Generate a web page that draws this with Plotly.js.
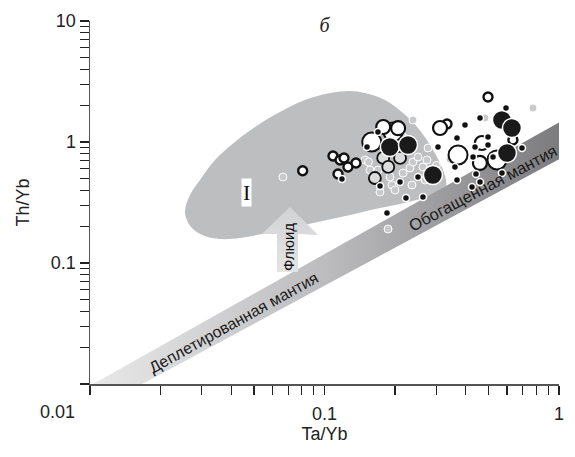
<!DOCTYPE html>
<html>
<head>
<meta charset="utf-8">
<script src="https://cdn.plot.ly/plotly-3.0.1.min.js"></script>
<style>html,body{margin:0;padding:0;background:#fff;}#chart{width:575px;height:457px;}</style>
</head>
<body>
<div id="chart"></div>
<script>
// ---- Data (Ta/Yb vs Th/Yb) ----
const bigBlackX = [0.190, 0.227, 0.290, 0.571, 0.630, 0.600];
const bigBlackY = [0.909, 0.945, 0.534, 1.520, 1.305, 0.811];

const bigWhiteX = [0.196, 0.159, 0.371, 0.544];
const bigWhiteY = [1.210, 1.000, 0.781, 0.710];

const midWhiteX = [0.469, 0.178, 0.460, 0.311, 0.206];
const midWhiteY = [0.981, 1.330, 0.671, 1.305, 1.300];

const midGrayX = [0.178, 0.210, 0.187, 0.164];
const midGrayY = [0.738, 0.738, 0.622, 0.504];

const ringX = [0.0807, 0.1087, 0.1165, 0.1211, 0.1259, 0.1362, 0.1142, 0.498, 0.333, 0.636];
const ringY = [0.579, 0.766, 0.710, 0.738, 0.622, 0.671, 0.544, 2.354, 1.408, 1.039];

const smallBlackX = [0.1187, 0.1690, 0.1518, 0.1725, 0.2099, 0.2226, 0.2630, 0.2504, 0.1847, 0.3673,
                     0.3973, 0.4604, 0.5943, 0.4384, 0.4980, 0.4980, 0.5232, 0.4299, 0.6952, 0.5713,
                     0.4426, 0.4604, 0.3600, 0.3673, 0.4256, 0.3048];
const smallBlackY = [0.4945, 1.2097, 0.909, 0.433, 0.467, 0.3445, 0.3511, 0.5136, 0.2589, 1.079,
                     1.382, 1.579, 1.910, 0.909, 1.100, 0.9445, 0.7516, 0.7516, 0.892, 0.5544,
                     0.5439, 0.467, 0.6215, 0.4853, 0.4248, 0.909];

const grayX = [0.0665, 0.1866, 0.2384, 0.7747, 0.4835, 0.1563, 0.1690, 0.1903, 0.1940, 0.2162,
               0.2315, 0.2384, 0.2504, 0.2630, 0.2735, 0.2763, 0.1998, 0.1725, 0.2360, 0.2684,
               0.1488, 0.2162, 0.343, 0.300, 0.154];
const grayY = [0.5136, 0.191, 1.520, 1.910, 1.579, 0.5868, 0.5868, 0.5136, 0.4413, 0.5544,
               0.6098, 0.6835, 0.7516, 0.6215, 0.7098, 0.892, 0.4012, 0.3862, 0.4413, 0.4853,
               0.7098, 1.100, 0.720, 0.640, 0.684];

// ---- Fields (region outlines, data units) ----
const fieldX = [0.02542,0.0267,0.02945,0.03411,0.04152,0.05205,0.06459,0.08256,0.1056,0.1285,0.1488,0.1811,0.2162,0.2504,0.2818,0.3108,0.3297,0.3265,0.2960,0.2553,0.2099,0.1725,0.1285,0.0938,0.0713,0.0541,0.0436,0.0358,0.0309,0.0272,0.02542];
const fieldY = [0.2589,0.3648,0.4853,0.7098,1.0,1.382,1.770,2.224,2.541,2.640,2.541,2.224,1.737,1.305,0.9445,0.6707,0.4853,0.4012,0.3578,0.3380,0.3074,0.2847,0.2492,0.2182,0.1947,0.1737,0.1609,0.1579,0.1671,0.1947,0.2589];

const mantleX = [0.0103, 1.0, 1.0, 0.0167, 0.0103];
const mantleY = [0.010, 1.45, 0.72, 0.010, 0.010];

const arrowX = [0.0713, 0.0938, 0.0771, 0.0771, 0.0627, 0.0627, 0.0541, 0.0713];
const arrowY = [0.2903, 0.1703, 0.1737, 0.0843, 0.0843, 0.1737, 0.1737, 0.2903];

const xTickVals = [0.01,0.02,0.03,0.04,0.05,0.06,0.07,0.08,0.09,0.1,0.2,0.3,0.4,0.5,0.6,0.7,0.8,0.9,1];
const xTickText = ['','','','','','','','','','0.1','','','','','','','','','1'];
const yTickVals = [0.01,0.02,0.03,0.04,0.05,0.06,0.07,0.08,0.09,0.1,0.2,0.3,0.4,0.5,0.6,0.7,0.8,0.9,1,2,3,4,5,6,7,8,9,10];
const yTickText = ['','','','','','','','','','0.1','','','','','','','','','1','','','','','','','','','10'];

const L = Math.log10;
const F = 'Liberation Sans, Arial, sans-serif';
const XDEC = 234.5, YDEC = 121; // px per decade of the frame

// tick marks as unclipped line markers just outside the axes (backup for the axis ticks)
const xTickMarkY = xTickVals.map(() => 0.01 * Math.pow(10, -4.5 / YDEC));
const yTickMarkX = yTickVals.map(() => 0.01 * Math.pow(10, -4.5 / XDEC));

const traces = [
  {x: fieldX, y: fieldY, mode: 'lines', fill: 'toself', fillcolor: '#bdbec0',
   line: {color: '#bdbec0', width: 0, shape: 'spline', smoothing: 1}, hoverinfo: 'skip'},
  {x: mantleX, y: mantleY, mode: 'lines', fill: 'toself',
   fillgradient: {type: 'horizontal', colorscale: [[0, '#e8e8e9'], [0.5, '#bcbcbe'], [1, '#7c7c7e']]},
   line: {width: 0, color: 'rgba(0,0,0,0)'}, hoverinfo: 'skip'},
  {x: arrowX, y: arrowY, mode: 'lines', fill: 'toself',
   fillgradient: {type: 'vertical', colorscale: [[0, '#e4e4e5'], [1, '#d2d3d5']]},
   line: {width: 0, color: 'rgba(0,0,0,0)'}, hoverinfo: 'skip'},
  {x: grayX, y: grayY, mode: 'markers',
   marker: {size: 8, color: '#c9cacc', line: {color: '#ffffff', width: 1}}},
  {x: ringX, y: ringY, mode: 'markers',
   marker: {size: 9, color: '#ffffff', line: {color: '#111111', width: 2.4}}},
  {x: midGrayX, y: midGrayY, mode: 'markers',
   marker: {size: 12, color: '#dcdcdd', line: {color: '#111111', width: 1.8}}},
  {x: bigWhiteX, y: bigWhiteY, mode: 'markers',
   marker: {size: 19, color: '#ffffff', line: {color: '#111111', width: 2}}},
  {x: midWhiteX, y: midWhiteY, mode: 'markers',
   marker: {size: 14, color: '#ffffff', line: {color: '#111111', width: 2.2}}},
  {x: bigBlackX, y: bigBlackY, mode: 'markers',
   marker: {size: 19, color: '#1a1a1a', line: {color: '#ffffff', width: 1.5}}},
  {x: smallBlackX, y: smallBlackY, mode: 'markers',
   marker: {size: 7, color: '#111111', line: {color: '#ffffff', width: 1.5}}},
  {x: xTickVals, y: xTickMarkY, mode: 'markers', cliponaxis: false, hoverinfo: 'skip',
   marker: {symbol: 'line-ns', size: 9, color: '#222222', line: {color: '#222222', width: 1.2}}},
  {x: yTickMarkX, y: yTickVals, mode: 'markers', cliponaxis: false, hoverinfo: 'skip',
   marker: {symbol: 'line-ew', size: 9, color: '#222222', line: {color: '#222222', width: 1.2}}}
];

const axisCommon = {
  type: 'log', showgrid: false, zeroline: false,
  showline: true, linecolor: '#555555', linewidth: 1.5,
  ticks: 'outside', ticklen: 9, tickcolor: '#222222', tickwidth: 1.2,
  tickmode: 'array',
  tickfont: {family: F, size: 18, color: '#222'}
};

const layout = {
  width: 575, height: 457,
  margin: {l: 90, r: 16, t: 21, b: 73},
  paper_bgcolor: '#ffffff', plot_bgcolor: '#ffffff',
  showlegend: false,
  font: {family: F, size: 18, color: '#222222'},
  title: {text: '<i>б</i>', font: {family: 'Liberation Serif, serif', size: 20, color: '#222'},
          x: 0.5, xref: 'paper', y: 1 - 25/457, yanchor: 'middle'},
  xaxis: Object.assign({}, axisCommon, {range: [-2, 0], tickvals: xTickVals, ticktext: xTickText, ticklabelstandoff: 4,
          title: {text: 'Ta/Yb', font: {family: F, size: 18, color: '#222'}, standoff: 3}}),
  yaxis: Object.assign({}, axisCommon, {range: [-2, 1], tickvals: yTickVals, ticktext: yTickText,
          title: {text: 'Th/Yb', font: {family: F, size: 18, color: '#222'}, standoff: 16}}),
  annotations: [
    {xref: 'paper', yref: 'paper', x: -0.069, y: -0.077, text: '0.01', showarrow: false,
     font: {family: F, size: 18, color: '#222'}, xanchor: 'center', yanchor: 'middle'},
    {x: L(0.0467), y: L(0.379), text: 'I', showarrow: false, bgcolor: '#ffffff', borderpad: 1,
     font: {family: 'Liberation Serif, serif', size: 22, color: '#111'}},
    {x: L(0.0699), y: L(0.1356), text: 'Флюид', showarrow: false, textangle: -90,
     font: {family: F, size: 15, color: '#111'}},
    {x: L(0.0410), y: L(0.0325), text: 'Деплетированная мантия', showarrow: false, textangle: -29,
     font: {family: F, size: 16, color: '#1a1a1a'}},
    {x: L(0.473), y: L(0.42), text: 'Обогащенная мантия', showarrow: false, textangle: -28,
     font: {family: F, size: 16.5, color: '#1a1a1a'}}
  ]
};

Plotly.newPlot('chart', traces, layout, {staticPlot: true});
</script>
</body>
</html>
